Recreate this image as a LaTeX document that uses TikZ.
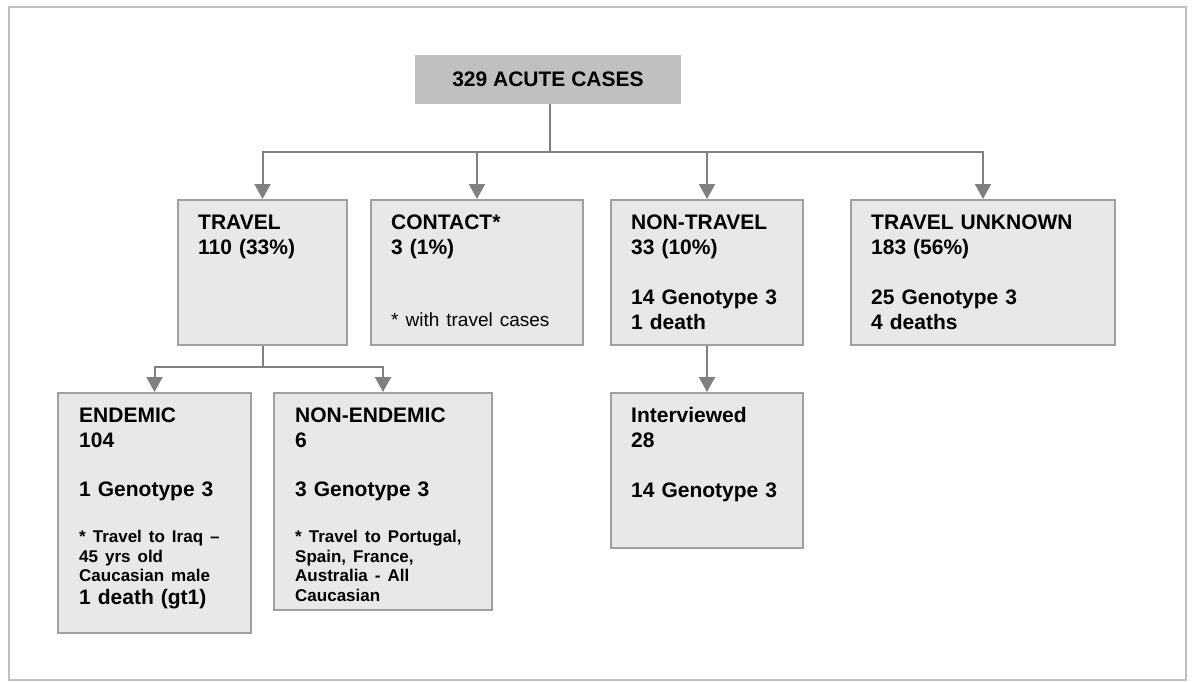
\documentclass[tikz,border=0pt]{standalone}
\usepackage{fontspec}
\setmainfont{Liberation Sans}
\usetikzlibrary{arrows.meta}
\definecolor{boxfill}{HTML}{E8E8E8}
\definecolor{boxedge}{HTML}{A0A0A0}
\definecolor{headfill}{HTML}{C0C0C0}
\definecolor{linkgray}{HTML}{808080}
\definecolor{framegray}{HTML}{C0C0C0}
\newcommand{\notefont}{\fontsize{17}{20}\selectfont}
\begin{document}
\begin{tikzpicture}[x=1pt,y=-1pt,
	box/.style={draw=boxedge,line width=2pt,fill=boxfill,anchor=north west,inner sep=0pt},
	headbox/.style={fill=headfill,inner sep=0pt,minimum width=266,minimum height=49,font=\bfseries\fontsize{21}{25}\selectfont},
	txt/.style={anchor=base west,align=left,inner sep=0pt,text width=260pt,font=\bfseries\fontsize{21}{25}\selectfont},
	link/.style={draw=linkgray,line width=2pt},
	arrow/.style={link,-{Triangle[width=16pt,length=15pt]}}]
	\useasboundingbox (0,0) rectangle (1193,682);
	\draw[framegray,line width=2pt] (9,7) rectangle (1186,680);
	% top
	\node[headbox] (acute) at (548,79.5) {329 ACUTE CASES};
	% first row
	\node[box,minimum width=169,minimum height=145] (travel) at (177,199) {};
	\node[box,minimum width=212,minimum height=145] (contact) at (370,199) {};
	\node[box,minimum width=192,minimum height=145] (nontravel) at (610,199) {};
	\node[box,minimum width=264,minimum height=145] (unknown) at (850,199) {};
	\node[txt] (travel-t) at ([shift={(21,30)}]travel.north west) {TRAVEL\\110 (33\%)};
	\node[txt] (contact-t) at ([shift={(21,30)}]contact.north west) {CONTACT*\\3 (1\%)\\[47pt]{\mdseries\fontsize{19}{22}\selectfont * with travel cases}};
	\node[txt] (nontravel-t) at ([shift={(21,30)}]nontravel.north west) {NON-TRAVEL\\33 (10\%)\\[25pt]14 Genotype 3\\1 death};
	\node[txt] (unknown-t) at ([shift={(21,30)}]unknown.north west) {TRAVEL UNKNOWN\\183 (56\%)\\[25pt]25 Genotype 3\\4 deaths};
	% second row
	\node[box,minimum width=193,minimum height=240] (endemic) at (57,392) {};
	\node[box,minimum width=218,minimum height=217] (nonendemic) at (273,392) {};
	\node[box,minimum width=192,minimum height=155] (interviewed) at (610,392) {};
	\node[txt] (endemic-t) at ([shift={(22,30)}]endemic.north west) {ENDEMIC\\104\\[24pt]1 Genotype 3\\[21pt]{\notefont * Travel to Iraq --}\\[-5pt]{\notefont 45 yrs old}\\[-6pt]{\notefont Caucasian male}\\[-2pt]1 death (gt1)};
	\node[txt] (nonendemic-t) at ([shift={(22,30)}]nonendemic.north west) {NON-ENDEMIC\\6\\[24pt]3 Genotype 3\\[21pt]{\notefont * Travel to Portugal,}\\[-5pt]{\notefont Spain, France,}\\[-6pt]{\notefont Australia - All}\\[-5pt]{\notefont Caucasian}};
	\node[txt] (interviewed-t) at ([shift={(21,30)}]interviewed.north west) {Interviewed\\28\\[25pt]14 Genotype 3};
	% links
	\coordinate (split) at (550,152);
	\coordinate (subsplit) at (travel.south |- 0,367);
	\draw[link] (split |- acute.south) -- (split);
	\foreach \n in {travel,contact,nontravel,unknown}
		\draw[arrow] (split) -| (\n.north);
	\draw[link] (travel.south) -- (subsplit);
	\foreach \n in {endemic,nonendemic}
		\draw[arrow] (subsplit) -| (\n.north);
	\draw[arrow] (nontravel.south) -- (interviewed.north);
\end{tikzpicture}
\end{document}
